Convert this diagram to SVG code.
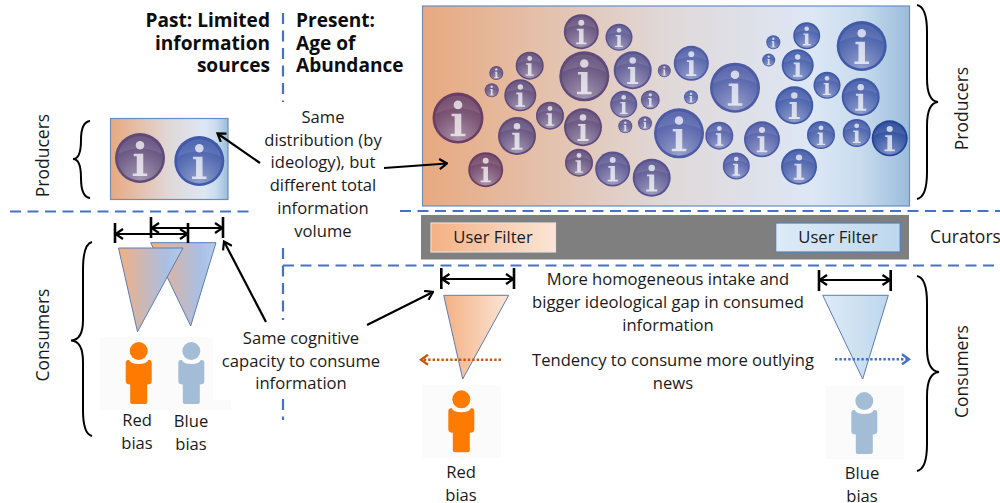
<svg xmlns="http://www.w3.org/2000/svg" xmlns:xlink="http://www.w3.org/1999/xlink" width="1000" height="503" viewBox="0 0 1000 503">
<style>
text{font-family:"Open Sans","Noto Sans","Liberation Sans",sans-serif;font-size:16.600px;fill:#1a1a1a}
.m{text-anchor:middle}
.h{font-weight:700;font-size:19.100px;fill:#0d0d0d}
.e{text-anchor:end}
.r{font-size:17.500px}
.dash{fill:none;stroke:#4472c4;stroke-width:2.2;stroke-dasharray:11 6.5}
.brace{fill:none;stroke:#000;stroke-width:2}
.w{fill:none;stroke:#000;stroke-width:2;marker-start:url(#open);marker-end:url(#open)}
.tick{stroke:#000;stroke-width:2.6}
.call{fill:none;stroke:#000;stroke-width:2.2;marker-end:url(#open)}
.tri{stroke:#5b7db5;stroke-width:1}
.pbg{fill:#fbfbfc}
.c1{color:#6b3f63}.c2{color:#5f4a78}.c3{color:#58538f}.c4{color:#4d5ba6}.c5{color:#4059a8}.c6{color:#24459a}
.red{color:#ff7a00}.blue{color:#a3bdd6}
</style>
<defs>
<marker id="open" viewBox="0 0 12 12" refX="10.5" refY="6" markerWidth="12" markerHeight="12" markerUnits="userSpaceOnUse" orient="auto-start-reverse"><path d="M3 1L10.5 6L3 11" fill="none" stroke="#000" stroke-width="2.2"/></marker>
<marker id="or" viewBox="0 0 12 12" refX="10" refY="6" markerWidth="12" markerHeight="12" markerUnits="userSpaceOnUse" orient="auto"><path d="M3 1L10 6L3 11" fill="none" stroke="#c55a11" stroke-width="2.400"/></marker>
<marker id="bl" viewBox="0 0 12 12" refX="10" refY="6" markerWidth="12" markerHeight="12" markerUnits="userSpaceOnUse" orient="auto"><path d="M3 1L10 6L3 11" fill="none" stroke="#4472c4" stroke-width="2.400"/></marker>
<linearGradient id="panel"><stop offset="0" stop-color="#e8a97f"/><stop offset=".5" stop-color="#e0d8d8"/><stop offset=".8" stop-color="#dde7f5"/><stop offset=".9" stop-color="#c8dcee"/><stop offset="1" stop-color="#9bbcdb"/></linearGradient>
<linearGradient id="mix"><stop offset="0" stop-color="#f1b083"/><stop offset=".75" stop-color="#a9bfe4"/><stop offset="1" stop-color="#b5cbea"/></linearGradient>
<linearGradient id="ored"><stop offset="0" stop-color="#f4b183"/><stop offset="1" stop-color="#fbe5d6"/></linearGradient>
<linearGradient id="lblue"><stop offset="0" stop-color="#deebf7"/><stop offset="1" stop-color="#bdd7ee"/></linearGradient>
<radialGradient id="glow" cx=".5" cy=".95" r=".85"><stop offset="0" stop-color="#fff" stop-opacity=".42"/><stop offset=".7" stop-color="#fff" stop-opacity=".12"/><stop offset="1" stop-color="#fff" stop-opacity="0"/></radialGradient>
<g id="info">
<circle r="50" fill="currentColor"/>
<circle r="45" fill="url(#glow)"/>
<path d="M-44 -8A45 45 0 0 1 44 -8Q0 -30 -44 -8Z" fill="#fff" fill-opacity=".1"/>
<g fill="#fff" fill-opacity=".72">
<circle cy="-25.700" r="8.500"/>
<path d="M-12.500 -8.500H6.500V31H14.500V36H-14.500V31H-6.500V-3.500H-12.500Z"/>
</g>
</g>
<g id="person">
<circle r="9" fill="currentColor"/>
<path fill="currentColor" d="M-9.500 9Q-8 13 0 13Q8 13 9.500 9L10.500 9Q13 9 13 12L13 30Q13 33.500 8.500 33.500L8.500 51Q8.500 53 6.500 53L-6.500 53Q-8.500 53 -8.500 51L-8.500 33.500Q-13 33.500 -13 30L-13 12Q-13 9 -10.500 9Z"/>
</g>
</defs>
<rect width="1000" height="503" fill="#fff"/>

<g id="dividers">
<path class="dash" d="M283 13V102M283 248V320M283 399V420"/>
<path class="dash" d="M10 211.500H250M400 211H1000M283 265.500H1000"/>
</g>

<g id="past-header"><text class="h e" x="270" y="27">Past: Limited</text><text class="h e" x="270" y="50">information</text><text class="h e" x="270" y="72">sources</text></g>
<g id="present-header"><text class="h" x="296" y="27">Present:</text><text class="h" x="296" y="50">Age of</text><text class="h" x="296" y="72">Abundance</text></g>

<g id="producers-past">
<rect x="110.500" y="118.500" width="117.500" height="81" fill="url(#panel)" stroke="#6a8cc0" stroke-width="1.200"/>
<use href="#info" class="c2" transform="translate(140 158) scale(.5)"/>
<use href="#info" class="c5" transform="translate(199.300 161) scale(.5)"/>
</g>

<g id="producers-present">
<rect x="422.500" y="6" width="487" height="200" fill="url(#panel)" stroke="#6a8cc0" stroke-width="1.200"/>
<use href="#info" class="c1" transform="translate(458 118) scale(.51)"/>
<use href="#info" class="c1" transform="translate(485.700 169.700) scale(.35)"/>
<use href="#info" class="c2" transform="translate(517 136) scale(.38)"/>
<use href="#info" class="c2" transform="translate(520.300 95.300) scale(.32)"/>
<use href="#info" class="c2" transform="translate(529.700 65.700) scale(.28)"/>
<use href="#info" class="c2" transform="translate(496.300 73) scale(.14)"/>
<use href="#info" class="c2" transform="translate(491.700 90.300) scale(.14)"/>
<use href="#info" class="c2" transform="translate(550 115.700) scale(.28)"/>
<use href="#info" class="c2" transform="translate(581.300 31.700) scale(.35)"/>
<use href="#info" class="c3" transform="translate(619 37.300) scale(.27)"/>
<use href="#info" class="c2" transform="translate(584.300 76.300) scale(.5)"/>
<use href="#info" class="c3" transform="translate(632.700 70.300) scale(.38)"/>
<use href="#info" class="c3" transform="translate(664.300 70.700) scale(.13)"/>
<use href="#info" class="c3" transform="translate(623.700 104.300) scale(.27)"/>
<use href="#info" class="c3" transform="translate(650.300 99.700) scale(.19)"/>
<use href="#info" class="c3" transform="translate(625.300 126.300) scale(.14)"/>
<use href="#info" class="c3" transform="translate(645 123.300) scale(.14)"/>
<use href="#info" class="c2" transform="translate(583 127.300) scale(.38)"/>
<use href="#info" class="c2" transform="translate(579 162.700) scale(.28)"/>
<use href="#info" class="c3" transform="translate(612.700 169) scale(.35)"/>
<use href="#info" class="c3" transform="translate(651.700 177.700) scale(.38)"/>
<use href="#info" class="c4" transform="translate(691.300 63.300) scale(.35)"/>
<use href="#info" class="c4" transform="translate(735 87.700) scale(.5)"/>
<use href="#info" class="c4" transform="translate(691 97.300) scale(.14)"/>
<use href="#info" class="c4" transform="translate(679 133.300) scale(.5)"/>
<use href="#info" class="c4" transform="translate(719.300 135.700) scale(.28)"/>
<use href="#info" class="c4" transform="translate(736.300 166) scale(.27)"/>
<use href="#info" class="c4" transform="translate(762 139.300) scale(.36)"/>
<use href="#info" class="c5" transform="translate(794.300 105.300) scale(.38)"/>
<use href="#info" class="c5" transform="translate(797.700 65.300) scale(.32)"/>
<use href="#info" class="c5" transform="translate(768.700 60) scale(.13)"/>
<use href="#info" class="c5" transform="translate(773.300 42.300) scale(.14)"/>
<use href="#info" class="c5" transform="translate(806.700 35.700) scale(.27)"/>
<use href="#info" class="c5" transform="translate(861.700 46) scale(.5)"/>
<use href="#info" class="c5" transform="translate(827 85.300) scale(.27)"/>
<use href="#info" class="c5" transform="translate(860.700 97) scale(.38)"/>
<use href="#info" class="c5" transform="translate(821 135) scale(.28)"/>
<use href="#info" class="c5" transform="translate(856.700 133) scale(.28)"/>
<use href="#info" class="c6" transform="translate(889.700 138.300) scale(.36)"/>
<use href="#info" class="c5" transform="translate(799 166.700) scale(.36)"/>
</g>

<g id="callout-distribution"><text class="m" x="323" y="123">Same</text><text class="m" x="323" y="146">distribution (by</text><text class="m" x="323" y="168">ideology), but</text><text class="m" x="323" y="191">different total</text><text class="m" x="323" y="214">information</text><text class="m" x="323" y="237">volume</text></g>
<g id="callout-capacity"><text class="m" x="301" y="344">Same cognitive</text><text class="m" x="301" y="367">capacity to consume</text><text class="m" x="301" y="389">information</text></g>

<g id="label-producers-left"><text class="m r" transform="translate(49 155.500) rotate(-90)">Producers</text><path class="brace" d="M90 121Q81 122 81 140Q81 159 73 159Q81 159 81 178Q81 197 90 198"/></g>
<g id="label-consumers-left"><text class="m r" transform="translate(49 335) rotate(-90)">Consumers</text><path class="brace" d="M92 242Q83 244 83 270V320Q83 340 71 340.500Q83 341 83 362V410Q83 434 92 436"/></g>
<g id="label-producers-right"><text class="m r" transform="translate(968 108.500) rotate(-90)">Producers</text><path class="brace" d="M917 5Q927 7 927 32V78Q927 101 938 102Q927 103 927 126V172Q927 197 917 199"/></g>
<g id="label-consumers-right"><text class="m r" transform="translate(968 371.500) rotate(-90)">Consumers</text><path class="brace" d="M917 276Q927 278 927 303V348Q927 371 939 372Q927 373 927 396V444Q927 469 917 471"/></g>

<g id="curators">
<rect x="421" y="215" width="488" height="44.500" fill="#7f7f7f"/>
<g id="filter-red"><rect x="431" y="223" width="124.500" height="29" fill="url(#ored)" stroke="#e8e0da" stroke-width="1.200"/><text class="m" x="493" y="243">User Filter</text></g>
<g id="filter-blue"><rect x="775.700" y="223" width="124.500" height="29" fill="url(#lblue)" stroke="#4f81bd" stroke-width="1.200"/><text class="m" x="838" y="243">User Filter</text></g>
<text class="r" x="930" y="243">Curators</text>
</g>

<g id="consumers-past">
<polygon class="tri" points="150.700,242.700 216,242.700 190.700,326" fill="url(#mix)"/>
<polygon class="tri" points="118.500,248 183,248 137.500,331.700" fill="url(#mix)"/>
<path class="tick" d="M115 223V243M188 223V243M151 217V238M223 217V238"/>
<path class="w" d="M115.500 234H187.500"/>
<path class="w" d="M151.500 228H222.500"/>
</g>

<g id="person-red-past"><rect class="pbg" x="100" y="337" width="53" height="73"/><use href="#person" class="red" transform="translate(138.700 351)"/><text class="m" x="137" y="426">Red</text><text class="m" x="137" y="449">bias</text></g>
<g id="person-blue-past"><path class="pbg" d="M153 337H213V400H231V410H153Z"/><use href="#person" class="blue" transform="translate(191.300 351)"/><text class="m" x="191" y="427">Blue</text><text class="m" x="191" y="450">bias</text></g>

<g id="consumer-red-present">
<polygon class="tri" points="443.700,295.300 508.700,295.300 462.700,379" fill="url(#ored)"/>
<path class="tick" d="M441.300 268V289M514 268V289"/>
<path class="w" d="M442 279H513.500"/>
<path d="M501 359.700H421" fill="none" stroke="#c55a11" stroke-width="2.400" stroke-dasharray="2.400 2" marker-end="url(#or)"/>
<rect class="pbg" x="422" y="385" width="79" height="73"/>
<use href="#person" class="red" transform="translate(461.300 399.300)"/>
<text class="m" x="461" y="478">Red</text><text class="m" x="461" y="501">bias</text>
</g>

<g id="consumer-blue-present">
<polygon class="tri" points="822.700,295.300 888.300,295.300 862.700,379" fill="url(#lblue)"/>
<path class="tick" d="M819 270V291M890.700 270V291"/>
<path class="w" d="M819.500 280H890"/>
<path d="M835 359.300H909" fill="none" stroke="#4472c4" stroke-width="2.400" stroke-dasharray="2.400 2" marker-end="url(#bl)"/>
<rect class="pbg" x="825.700" y="386" width="78.300" height="73"/>
<use href="#person" class="blue" transform="translate(864.300 401)"/>
<text class="m" x="862" y="479">Blue</text><text class="m" x="862" y="502">bias</text>
</g>

<g id="note-homogeneous"><text class="m" x="668" y="285">More homogeneous intake and</text><text class="m" x="668" y="308">bigger ideological gap in consumed</text><text class="m" x="668" y="331">information</text></g>
<g id="note-tendency"><text class="m" x="673" y="366">Tendency to consume more outlying</text><text class="m" x="673" y="389">news</text></g>

<g id="connectors">
<path class="call" d="M260 163L217.500 133.500"/>
<path class="call" d="M384 168L447 163.500"/>
<path class="call" d="M266 322L224 241.500"/>
<path class="call" d="M367 325L433 292"/>
</g>
</svg>
